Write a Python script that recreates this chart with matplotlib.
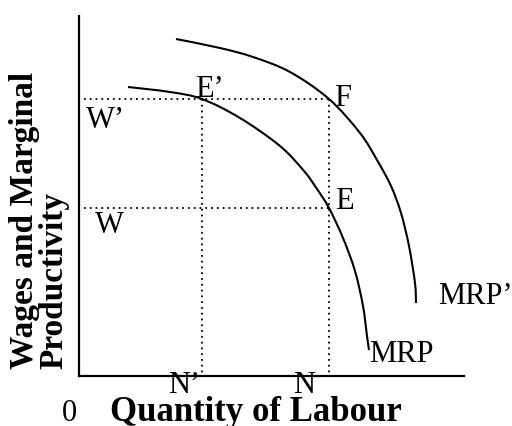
import matplotlib
matplotlib.use("Agg")
import matplotlib.pyplot as plt
from matplotlib.path import Path
from matplotlib.patches import PathPatch

plt.rcParams["font.family"] = ["Liberation Serif", "DejaVu Serif"]

# Marginal revenue product curves (labour, productivity)
mrp_labour = [49, 91, 123, 161, 201, 225, 238, 250, 264, 276, 284, 288, 290]
mrp_value = [289, 284, 277, 258, 230, 205, 187, 168, 138, 105, 70, 40, 26]

mrp2_labour = [97, 141, 174, 211, 250, 281, 298, 312, 322, 330, 336, 337]
mrp2_value = [337, 328, 319, 304, 277, 243, 216, 190, 163, 130, 93, 73]

# Wage levels and the matching quantities of labour
wage_high = 277   # W'
wage_low = 168    # W
labour_low = 123  # N'
labour_high = 250 # N
wage_line_start = 5


def smooth_path(xs, ys):
    # Catmull-Rom through the points, written as cubic Bezier segments
    pts = list(zip(xs, ys))
    verts = [pts[0]]
    codes = [Path.MOVETO]
    for i in range(len(pts) - 1):
        p0 = pts[max(i - 1, 0)]
        p1 = pts[i]
        p2 = pts[i + 1]
        p3 = pts[min(i + 2, len(pts) - 1)]
        c1 = (p1[0] + (p2[0] - p0[0]) / 6, p1[1] + (p2[1] - p0[1]) / 6)
        c2 = (p2[0] - (p3[0] - p1[0]) / 6, p2[1] - (p3[1] - p1[1]) / 6)
        verts += [c1, c2, p2]
        codes += [Path.CURVE4] * 3
    return Path(verts, codes)


fig = plt.figure(figsize=(5.12, 4.26), dpi=100)
ax = fig.add_axes([79 / 512, 50 / 426, 385 / 512, 360 / 426])
ax.set_xlim(0, 385)
ax.set_ylim(0, 360)

for side in ["top", "right"]:
    ax.spines[side].set_visible(False)
for side in ["left", "bottom"]:
    ax.spines[side].set_linewidth(1.6)
ax.set_xticks([])
ax.set_yticks([])

dot = dict(color="black", lw=1.3, linestyle=(0, (1, 2.2)), dash_capstyle="butt")
ax.plot([wage_line_start, labour_high], [wage_high, wage_high], **dot)
ax.plot([wage_line_start, labour_high], [wage_low, wage_low], **dot)
ax.plot([labour_low, labour_low], [wage_high, 0], **dot)
ax.plot([labour_high, labour_high], [wage_high, 0], **dot)

for xs, ys in [(mrp_labour, mrp_value), (mrp2_labour, mrp2_value)]:
    ax.add_patch(PathPatch(smooth_path(xs, ys), facecolor="none",
                           edgecolor="black", lw=1.5))

lab = dict(fontsize=22, ha="left", va="baseline", clip_on=False)
ax.text(7, 248, "W’", **lab)
ax.text(16, 143, "W", **lab)
ax.text(116, 279, "E’", **lab)
ax.text(255, 270, "F", **lab)
ax.text(256, 167, "E", **lab)
ax.text(359, 72, "MRP’", **lab)
ax.text(290, 14, "MRP", **lab)
ax.text(89, -17, "N’", **lab)
ax.text(214, -17, "N", **lab)
ax.text(-17, -45, "0", **lab)
ax.text(31, -45, "Quantity of Labour", fontsize=25, fontweight="bold",
        ha="left", va="baseline", clip_on=False)

fig.text(9 / 512, (426 - 369) / 426, "Wages and Marginal\nProductivity",
         rotation=90, fontsize=24, fontweight="bold", ha="left", va="bottom",
         multialignment="left", linespacing=0.95)

fig.savefig("out.png", dpi=100)
